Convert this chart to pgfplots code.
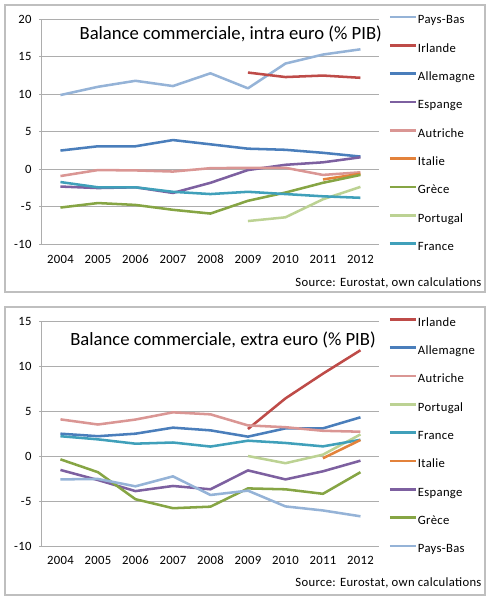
\documentclass[border=0pt]{standalone}
\usepackage{fontspec}
\setmainfont{Carlito}
\newfontfamily\smallf[LetterSpace=2.5]{Carlito}
\usepackage{pgfplots}
\pgfplotsset{compat=1.18}
\definecolor{cPB}{HTML}{95B3D7}
\definecolor{cIR}{HTML}{BE4B48}
\definecolor{cAL}{HTML}{4A7EBB}
\definecolor{cES}{HTML}{7D60A0}
\definecolor{cAU}{HTML}{DA9694}
\definecolor{cIT}{HTML}{E3823B}
\definecolor{cGR}{HTML}{86A544}
\definecolor{cPT}{HTML}{BCD293}
\definecolor{cFR}{HTML}{40A0BA}
\definecolor{gridc}{HTML}{ADADAD}
\definecolor{framec}{HTML}{BFBFBF}
\pgfplotsset{
  panel/.style={
    scale only axis, width=253.125pt, height=168.75pt,
    xmin=2003.5, xmax=2012.5,
    xtick={2004,2005,2006,2007,2008,2009,2010,2011,2012},
    xticklabels={2004,2005,2006,2007,2008,2009,2010,2011,2012},
    axis x line*=bottom, axis y line*=left,
    x axis line style={draw=none},
    y axis line style={draw=gridc, line width=0.75pt},
    xtick style={draw=none},
    ytick style={draw=gridc, line width=0.75pt},
    major tick length=2pt, tick align=outside,
    ymajorgrids, grid style={draw=gridc, line width=0.75pt},
    /pgf/number format/assume math mode=true,
    tick label style={font=\smallf\fontsize{9.5}{11}\selectfont},
    yticklabel style={inner sep=0pt, xshift=-5.5pt},
    xticklabel style={inner sep=0pt, anchor=center, yshift=-9pt},
    every axis plot/.append style={line width=1.9pt, line join=round, no marks},
    legend style={draw=none, fill=none, anchor=north west,
      font=\smallf\fontsize{9.5}{11}\selectfont, inner sep=0pt, row sep=11.45pt,
      nodes={inner sep=0.6pt, text height=6.8pt, text depth=1.8pt, anchor=west}},
    legend cell align=left,
    legend image post style={line width=1.9pt},
    legend image code/.code={\draw[#1, line width=1.9pt] (0pt,2.6pt) -- (19.5pt,2.6pt);},
  }
}
\begin{document}
\begin{tikzpicture}
\path[use as bounding box] (0pt,0pt) rectangle (369pt,-450pt);
\draw[framec, line width=1.1pt] (3.75pt,-3.75pt) rectangle (363.75pt,-219pt);
\draw[framec, line width=1.1pt] (3.75pt,-230.25pt) rectangle (363.75pt,-446.25pt);
% ---------- top panel
\begin{axis}[panel, at={(31.275pt,-14.475pt)}, anchor=north west,
  ymin=-10, ymax=20, ytick={-10,-5,0,5,10,15,20},
  legend style={at={(axis description cs:1.027,1.0255)}}]
\draw[gridc, line width=0.75pt] (axis cs:2003.5,0) -- (axis cs:2012.5,0);
\addplot[cPB] coordinates {(2004,9.9) (2005,11.0) (2006,11.8) (2007,11.1) (2008,12.8) (2009,10.8) (2010,14.1) (2011,15.3) (2012,16.0)};
\addlegendentry{Pays-Bas}
\addplot[cIR] coordinates {(2009,12.9) (2010,12.3) (2011,12.5) (2012,12.2)};
\addlegendentry{Irlande}
\addplot[cAL] coordinates {(2004,2.5) (2005,3.07) (2006,3.07) (2007,3.9) (2008,3.33) (2009,2.75) (2010,2.6) (2011,2.2) (2012,1.7)};
\addlegendentry{Allemagne}
\addplot[cES] coordinates {(2004,-2.3) (2005,-2.5) (2006,-2.4) (2007,-3.15) (2008,-1.8) (2009,-0.1) (2010,0.6) (2011,0.93) (2012,1.6)};
\addlegendentry{Espange}
\addplot[cAU] coordinates {(2004,-0.9) (2005,-0.1) (2006,-0.15) (2007,-0.3) (2008,0.15) (2009,0.2) (2010,0.2) (2011,-0.75) (2012,-0.4)};
\addlegendentry{Autriche}
\addplot[cIT] coordinates {(2011,-1.35) (2012,-0.6)};
\addlegendentry{Italie}
\addplot[cGR] coordinates {(2004,-5.1) (2005,-4.5) (2006,-4.75) (2007,-5.4) (2008,-5.9) (2009,-4.2) (2010,-3.1) (2011,-1.8) (2012,-0.75)};
\addlegendentry{Grèce}
\addplot[cPT] coordinates {(2009,-6.9) (2010,-6.4) (2011,-4.0) (2012,-2.35)};
\addlegendentry{Portugal}
\addplot[cFR] coordinates {(2004,-1.7) (2005,-2.4) (2006,-2.4) (2007,-3.0) (2008,-3.3) (2009,-3.0) (2010,-3.3) (2011,-3.6) (2012,-3.8)};
\addlegendentry{France}
\end{axis}
% ---------- bottom panel
\begin{axis}[panel, at={(31.275pt,-240.75pt)}, anchor=north west,
  ymin=-10, ymax=15, ytick={-10,-5,0,5,10,15},
  legend style={at={(axis description cs:1.027,1.0225)}}]
\draw[gridc, line width=0.75pt] (axis cs:2003.5,0) -- (axis cs:2012.5,0);
\addplot[cIR] coordinates {(2009,3.0) (2010,6.4) (2011,9.15) (2012,11.75)};
\addlegendentry{Irlande}
\addplot[cAL] coordinates {(2004,2.48) (2005,2.2) (2006,2.48) (2007,3.15) (2008,2.85) (2009,2.15) (2010,3.07) (2011,3.07) (2012,4.3)};
\addlegendentry{Allemagne}
\addplot[cAU] coordinates {(2004,4.07) (2005,3.5) (2006,4.05) (2007,4.85) (2008,4.63) (2009,3.4) (2010,3.2) (2011,2.8) (2012,2.7)};
\addlegendentry{Autriche}
\addplot[cPT] coordinates {(2009,0.0) (2010,-0.8) (2011,0.15) (2012,2.4)};
\addlegendentry{Portugal}
\addplot[cFR] coordinates {(2004,2.2) (2005,1.85) (2006,1.37) (2007,1.5) (2008,1.05) (2009,1.7) (2010,1.45) (2011,1.07) (2012,1.8)};
\addlegendentry{France}
\addplot[cIT] coordinates {(2011,-0.25) (2012,1.78)};
\addlegendentry{Italie}
\addplot[cES] coordinates {(2004,-1.55) (2005,-2.67) (2006,-3.9) (2007,-3.33) (2008,-3.7) (2009,-1.6) (2010,-2.6) (2011,-1.7) (2012,-0.52)};
\addlegendentry{Espange}
\addplot[cGR] coordinates {(2004,-0.37) (2005,-1.8) (2006,-4.8) (2007,-5.8) (2008,-5.63) (2009,-3.6) (2010,-3.7) (2011,-4.2) (2012,-1.8)};
\addlegendentry{Grèce}
\addplot[cPB] coordinates {(2004,-2.6) (2005,-2.55) (2006,-3.37) (2007,-2.26) (2008,-4.33) (2009,-3.85) (2010,-5.6) (2011,-6.05) (2012,-6.7)};
\addlegendentry{Pays-Bas}
\end{axis}
% ---------- titles and sources
\node[anchor=base west, inner sep=0pt, font=\fontsize{14}{16}\selectfont] at (59.5pt,-29.25pt) {Balance commerciale, intra euro (\% PIB)};
\node[anchor=base west, inner sep=0pt, font=\fontsize{14}{16}\selectfont] at (52.5pt,-258.75pt) {Balance commerciale, extra euro (\% PIB)};
\node[anchor=base east, inner sep=0pt, font=\smallf\fontsize{9.5}{11}\selectfont] at (361.3pt,-214.5pt) {Source: Eurostat, own calculations};
\node[anchor=base east, inner sep=0pt, font=\smallf\fontsize{9.5}{11}\selectfont] at (361.3pt,-439.5pt) {Source: Eurostat, own calculations};
\end{tikzpicture}
\end{document}
